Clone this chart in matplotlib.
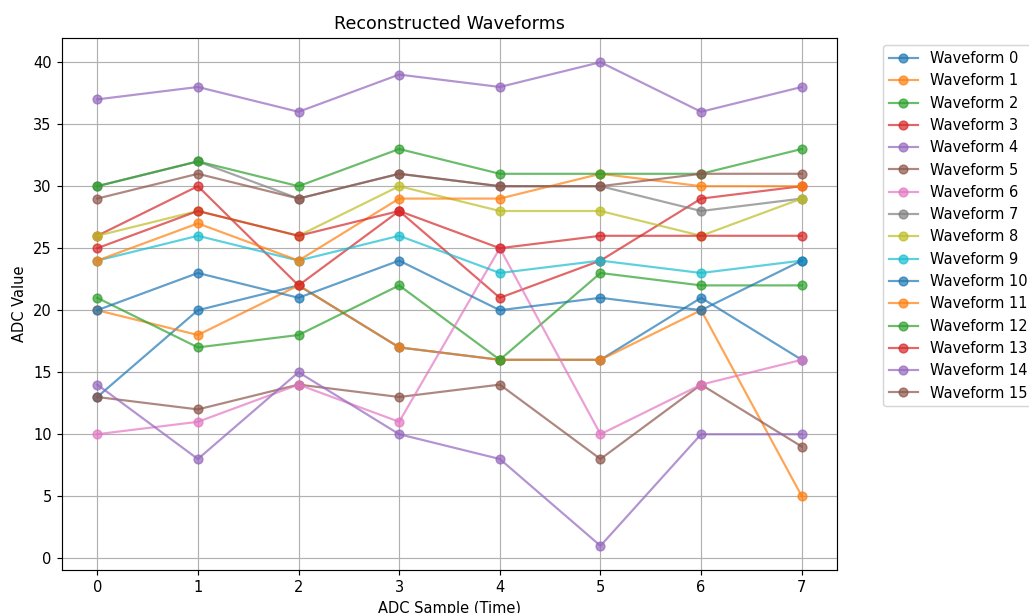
import numpy as np
import matplotlib
matplotlib.use('Agg')
import matplotlib.pyplot as plt

samples = [0, 1, 2, 3, 4, 5, 6, 7]

wf0 = [13, 20, 22, 17, 16, 16, 21, 16]
wf1 = [20, 18, 22, 17, 16, 16, 20, 5]
wf2 = [21, 17, 18, 22, 16, 23, 22, 22]
wf3 = [26, 30, 22, 28, 21, 24, 29, 30]
wf4 = [37, 38, 36, 39, 38, 40, 36, 38]
wf5 = [13, 12, 14, 13, 14, 8, 14, 9]
wf6 = [10, 11, 14, 11, 25, 10, 14, 16]
wf7 = [30, 32, 29, 31, 30, 30, 28, 29]
wf8 = [26, 28, 26, 30, 28, 28, 26, 29]
wf9 = [24, 26, 24, 26, 23, 24, 23, 24]
wf10 = [20, 23, 21, 24, 20, 21, 20, 24]
wf11 = [24, 27, 24, 29, 29, 31, 30, 30]
wf12 = [30, 32, 30, 33, 31, 31, 31, 33]
wf13 = [25, 28, 26, 28, 25, 26, 26, 26]
wf14 = [14, 8, 15, 10, 8, 1, 10, 10]
wf15 = [29, 31, 29, 31, 30, 30, 31, 31]

waveforms = [wf0, wf1, wf2, wf3, wf4, wf5, wf6, wf7,
             wf8, wf9, wf10, wf11, wf12, wf13, wf14, wf15]

DPI = 105
fig = plt.figure(figsize=(1029 / DPI, 613 / DPI), dpi=DPI)
ax = fig.add_axes([62 / 1029, 1 - 570 / 613, 775 / 1029, 532 / 613])

for i, w in enumerate(waveforms):
    ax.plot(samples, w, marker='o', alpha=0.7, label='Waveform %d' % i)

ax.set_title('Reconstructed Waveforms')
ax.set_xlabel('ADC Sample (Time)')
ax.set_ylabel('ADC Value')
ax.grid(True)
ax.legend(bbox_to_anchor=(1.05, 1), loc='upper left')

fig.savefig('out.png', dpi=DPI)
